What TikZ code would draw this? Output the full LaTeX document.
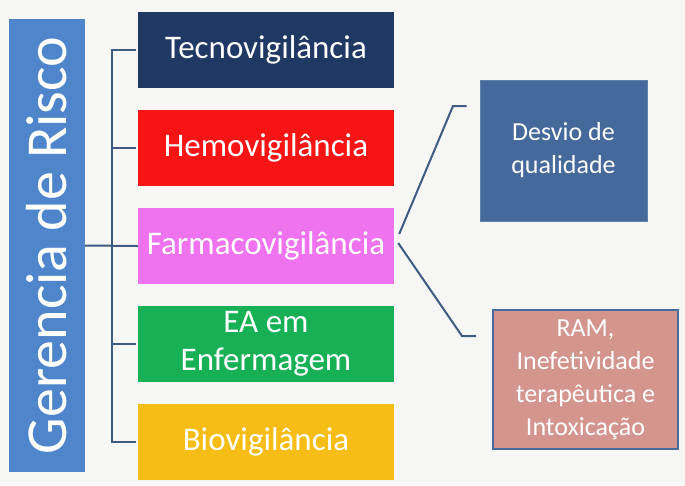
\documentclass[tikz,border=0pt]{standalone}
\usepackage{fontspec}
\setmainfont{Carlito}
\definecolor{paper}{HTML}{F6F7F5}
\definecolor{riskblue}{HTML}{4F86CB}
\definecolor{navy}{HTML}{1F3864}
\definecolor{hemored}{HTML}{F71414}
\definecolor{farmapink}{HTML}{EF72EF}
\definecolor{eagreen}{HTML}{17B055}
\definecolor{bioyellow}{HTML}{F6BD16}
\definecolor{linkblue}{HTML}{3F5B82}
\definecolor{desvioblue}{HTML}{45699A}
\definecolor{rampink}{HTML}{D4958F}
\definecolor{ramframe}{HTML}{4A6A9B}
\begin{document}
\begin{tikzpicture}[x=1pt, y=-1pt]
      \tikzstyle{area}=[minimum width=256pt, minimum height=76pt, inner sep=0pt, text=white, align=center, font=\fontsize{33}{38}\selectfont]
      \tikzstyle{kind}=[inner sep=0pt, text=white, align=center, font=\fontsize{26}{33}\selectfont]
      \tikzstyle{link}=[draw=linkblue, line width=2pt]
      \fill[paper] (0,0) rectangle (685,485);
      \node[fill=riskblue, rotate=90, minimum width=453pt, minimum height=76pt, inner sep=0pt, text=white, font=\fontsize{58}{60}\selectfont] (risk) at (47, 245.5) {Gerencia de Risco};
      \node[area, fill=navy]      (tecno) at (266, 50)  {Tecnovigilância};
      \node[area, fill=hemored]   (hemo)  at (266, 148) {Hemovigilância};
      \node[area, fill=farmapink] (farma) at (266, 246) {Farmacovigilância};
      \node[area, fill=eagreen]   (ea)    at (266, 344) {EA em\\Enfermagem};
      \node[area, fill=bioyellow] (bio)   at (266, 442) {Biovigilância};
      \node[kind, fill=desvioblue, draw=desvioblue!85!white, line width=1pt, minimum width=167pt, minimum height=141pt] (desvio) at (563.5, 150.5) {Desvio de\\qualidade};
      \node[kind, fill=rampink, draw=ramframe, line width=1.6pt, minimum width=185pt, minimum height=139pt] (ram) at (585.5, 379.5) {RAM,\\Inefetividade\\terapêutica e\\Intoxicação};

      \coordinate (spine) at (112, 245);
      \coordinate (up)    at (453, 106);
      \coordinate (down)  at (462, 336);
      \draw[link] (risk.south) -- (farma.west);
      \draw[link] ([xshift=-2pt]tecno.west) -- (tecno.west -| spine) -- (bio.west -| spine) -- ([xshift=-2pt]bio.west);
      \foreach \n in {hemo, ea}
        \draw[link] ([xshift=-2pt]\n.west) -- (\n.west -| spine);
      \draw[link] ([xshift=5pt, yshift=12pt]farma.east) -- (up) -- ([xshift=-13pt]desvio.west |- up);
      \draw[link] ([xshift=4pt, yshift=3pt]farma.east) -- (down) -- ([xshift=-16pt]ram.west |- down);
\end{tikzpicture}
\end{document}
